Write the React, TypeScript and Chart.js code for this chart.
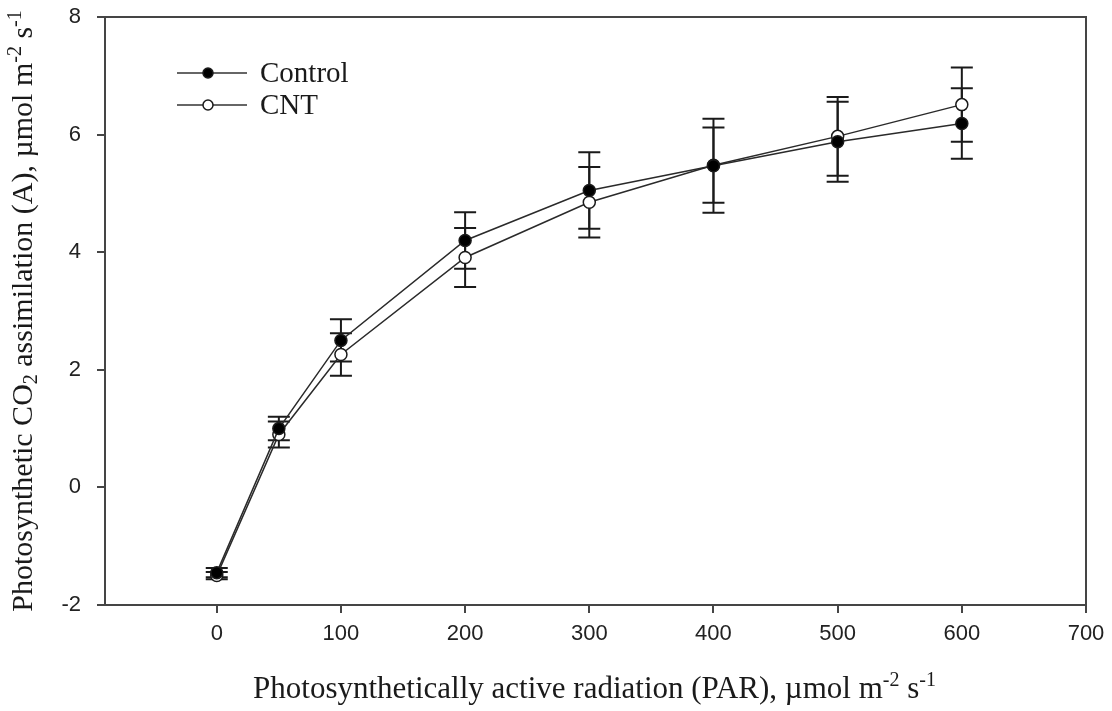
import React, { useEffect, useRef } from "react";
import { Chart, registerables } from "chart.js";

Chart.register(...registerables);

const parX = [0, 50, 100, 200, 300, 400, 500, 600];
const controlA = [-1.45, 1.0, 2.5, 4.2, 5.05, 5.47, 5.88, 6.19];
const controlErr = [0.08, 0.2, 0.36, 0.48, 0.65, 0.8, 0.68, 0.6];
const cntA = [-1.5, 0.9, 2.26, 3.91, 4.85, 5.48, 5.97, 6.51];
const cntErr = [0.06, 0.22, 0.36, 0.5, 0.6, 0.64, 0.67, 0.63];
const xTicks = [0, 100, 200, 300, 400, 500, 600, 700];
const yTicks = [-2, 0, 2, 4, 6, 8];
const seriesNames = ["Control", "CNT"];

const W = 1112;
const H = 711;
const INK = "#1a1a1a";
const AXIS = "#454545";
const SERIF = "'Liberation Serif', 'Times New Roman', serif";
const SANS = "'Liberation Sans', Arial, sans-serif";

type Seg = { t: string; sub?: boolean; sup?: boolean };

const xTitle: Seg[] = [
  { t: "Photosynthetically active radiation (PAR), \u00b5mol m" },
  { t: "-2", sup: true },
  { t: " s" },
  { t: "-1", sup: true },
];
const yTitle: Seg[] = [
  { t: "Photosynthetic CO" },
  { t: "2", sub: true },
  { t: " assimilation (A), \u00b5mol m" },
  { t: "-2", sup: true },
  { t: " s" },
  { t: "-1", sup: true },
];

function drawRich(ctx: CanvasRenderingContext2D, segs: Seg[], size: number, cx: number, cy: number) {
  const small = Math.round(size * 0.66);
  const widths = segs.map((s) => {
    ctx.font = `${s.sub || s.sup ? small : size}px ${SERIF}`;
    return ctx.measureText(s.t).width;
  });
  const total = widths.reduce((a, b) => a + b, 0);
  let x = cx - total / 2;
  ctx.textBaseline = "alphabetic";
  ctx.textAlign = "left";
  segs.forEach((s, i) => {
    ctx.font = `${s.sub || s.sup ? small : size}px ${SERIF}`;
    let dy = 0;
    if (s.sup) dy = -size * 0.38;
    if (s.sub) dy = size * 0.18;
    ctx.fillText(s.t, x, cy + dy);
    x += widths[i];
  });
}

const errorBarPlugin = {
  id: "errorBars",
  beforeDatasetsDraw(chart: any) {
    const { ctx, scales } = chart;
    const xs = scales.x;
    const ys = scales.y;
    ctx.save();
    ctx.strokeStyle = INK;
    ctx.lineWidth = 2;
    chart.data.datasets.forEach((ds: any) => {
      const errs: number[] = ds.errors || [];
      ds.data.forEach((p: any, j: number) => {
        const e = errs[j] || 0;
        const px = xs.getPixelForValue(p.x);
        const top = ys.getPixelForValue(p.y + e);
        const bot = ys.getPixelForValue(p.y - e);
        const hw = 11;
        ctx.beginPath();
        ctx.moveTo(px, top);
        ctx.lineTo(px, bot);
        ctx.moveTo(px - hw, top);
        ctx.lineTo(px + hw, top);
        ctx.moveTo(px - hw, bot);
        ctx.lineTo(px + hw, bot);
        ctx.stroke();
      });
    });
    ctx.restore();
  },
};

const decorPlugin = {
  id: "decor",
  afterDraw(chart: any) {
    const { ctx, chartArea } = chart;
    const { left, right, top, bottom } = chartArea;
    ctx.save();
    // frame top & right
    ctx.strokeStyle = AXIS;
    ctx.lineWidth = 2;
    ctx.beginPath();
    ctx.moveTo(left - 1, top);
    ctx.lineTo(right, top);
    ctx.lineTo(right, bottom + 1);
    ctx.stroke();

    // legend
    chart.data.datasets.forEach((ds: any, i: number) => {
      const ly = top + 56 + i * 32;
      const lx0 = left + 72;
      const lx1 = left + 142;
      const mx = left + 103;
      ctx.strokeStyle = "#333";
      ctx.lineWidth = 1.5;
      ctx.beginPath();
      ctx.moveTo(lx0, ly);
      ctx.lineTo(lx1, ly);
      ctx.stroke();
      ctx.beginPath();
      ctx.arc(mx, ly, 5, 0, Math.PI * 2);
      ctx.fillStyle = ds.pointBackgroundColor;
      ctx.fill();
      ctx.strokeStyle = INK;
      ctx.lineWidth = 1.5;
      ctx.stroke();
      ctx.fillStyle = INK;
      ctx.font = `29px ${SERIF}`;
      ctx.textAlign = "left";
      ctx.textBaseline = "middle";
      ctx.fillText(ds.label, left + 155, ly + 1);
    });

    // axis titles
    ctx.fillStyle = INK;
    drawRich(ctx, xTitle, 31, (left + right) / 2 - 1, 698);
    ctx.translate(32, (top + bottom) / 2);
    ctx.rotate(-Math.PI / 2);
    drawRich(ctx, yTitle, 30, 0, 0);
    ctx.restore();
  },
};

export default function App() {
  const ref = useRef<HTMLCanvasElement | null>(null);

  useEffect(() => {
    document.body.style.margin = "0";
    const canvas = ref.current;
    if (!canvas) return;
    const chart = new Chart(canvas, {
      type: "scatter",
      data: {
        datasets: [
          {
            label: seriesNames[0],
            data: parX.map((x, i) => ({ x, y: controlA[i] })),
            errors: controlErr,
            showLine: true,
            borderColor: "#2a2a2a",
            borderWidth: 1.5,
            pointRadius: 6,
            pointBorderWidth: 1.5,
            pointBackgroundColor: "#000000",
            pointBorderColor: INK,
          } as any,
          {
            label: seriesNames[1],
            data: parX.map((x, i) => ({ x, y: cntA[i] })),
            errors: cntErr,
            showLine: true,
            borderColor: "#2a2a2a",
            borderWidth: 1.5,
            pointRadius: 6,
            pointBorderWidth: 1.5,
            pointBackgroundColor: "#ffffff",
            pointBorderColor: INK,
          } as any,
        ],
      },
      options: {
        responsive: false,
        animation: false,
        devicePixelRatio: 1,
        layout: { padding: { top: 17, right: W - 1086, left: 0, bottom: 0 } },
        plugins: {
          legend: { display: false },
          tooltip: { enabled: false },
        },
        scales: {
          x: {
            type: "linear",
            min: -90,
            max: 700,
            afterBuildTicks: (s: any) => {
              s.ticks = xTicks.map((v) => ({ value: v }));
            },
            afterFit: (s: any) => {
              s.height = H - 605;
              s.paddingLeft = 0;
              s.paddingRight = 0;
            },
            grid: {
              drawOnChartArea: false,
              drawTicks: true,
              tickLength: 8,
              color: AXIS,
              lineWidth: 2,
            },
            border: { display: true, color: AXIS, width: 2 },
            ticks: {
              color: "#222",
              font: { family: SANS, size: 22 },
              padding: 8,
              maxRotation: 0,
              autoSkip: false,
            },
          },
          y: {
            type: "linear",
            min: -2,
            max: 8,
            afterBuildTicks: (s: any) => {
              s.ticks = yTicks.map((v) => ({ value: v }));
            },
            afterFit: (s: any) => {
              s.width = 105;
              s.paddingTop = 0;
              s.paddingBottom = 0;
            },
            grid: {
              drawOnChartArea: false,
              drawTicks: true,
              tickLength: 8,
              color: AXIS,
              lineWidth: 2,
            },
            border: { display: true, color: AXIS, width: 2 },
            ticks: {
              color: "#222",
              font: { family: SANS, size: 22 },
              padding: 16,
              autoSkip: false,
            },
          },
        },
      },
      plugins: [errorBarPlugin, decorPlugin],
    } as any);
    return () => chart.destroy();
  }, []);

  return (
    <div style={{ position: "fixed", left: 0, top: 0, width: W, height: H, background: "#fff" }}>
      <canvas ref={ref} width={W} height={H} style={{ width: W, height: H, display: "block" }} />
    </div>
  );
}
